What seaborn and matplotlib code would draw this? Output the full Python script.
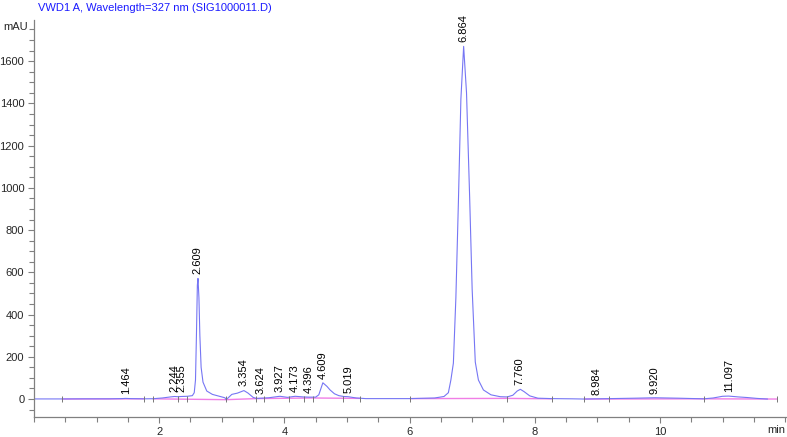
"""
Хроматограмма VWD1 A, 327 nm — воспроизведение графика
"""

import numpy as np
import pandas as pd
import matplotlib
matplotlib.use('Agg')
import matplotlib.pyplot as plt
from matplotlib.ticker import MultipleLocator
import seaborn as sns

# Сигнал детектора (время, мин / mAU)
time = [0.00, 0.45, 0.80, 1.20, 1.40, 1.464, 1.55, 1.76, 1.90, 2.05,
        2.18, 2.244, 2.30, 2.355, 2.45, 2.53, 2.56, 2.58, 2.595, 2.61,
        2.62, 2.635, 2.65, 2.67, 2.70, 2.76, 2.85, 2.95, 3.05, 3.07,
        3.10, 3.16, 3.25, 3.354, 3.42, 3.50, 3.55, 3.624, 3.75, 3.90,
        3.93, 4.05, 4.173, 4.30, 4.396, 4.50, 4.55, 4.615, 4.68, 4.73,
        4.80, 4.87, 4.95, 5.019, 5.15, 5.30, 5.60, 6.00, 6.40, 6.55,
        6.62, 6.66, 6.70, 6.74, 6.78, 6.82, 6.864, 6.91, 6.96, 7.00,
        7.05, 7.10, 7.18, 7.30, 7.45, 7.56, 7.65, 7.72, 7.77, 7.83,
        7.92, 8.05, 8.28, 8.60, 8.79, 8.984, 9.20, 9.60, 9.92, 10.30,
        10.70, 10.85, 11.00, 11.097, 11.25, 11.40, 11.55, 11.72]
signal = [0.5, 0.5, 1, 1, 2, 3, 2, 1, 1.5, 5,
          10, 12, 11, 12, 13, 16, 30, 90, 300, 540,
          571, 480, 300, 150, 80, 38, 22, 14, 6, -3,
          5, 22, 28, 40, 28, 8, 3, 4, 6, 12,
          13, 8, 13, 10, 9, 9, 20, 77, 60, 43,
          25, 16, 12, 11, 5, 2, 2, 2, 5, 12,
          30, 90, 170, 480, 930, 1420, 1670, 1450, 956, 520,
          175, 90, 43, 20, 11, 10, 18, 38, 46, 35,
          15, 4, 2, 1, 0, 1, 2, 4, 6, 4,
          1, 5, 13, 14, 10, 7, 3, 0]

# Базовая линия интегрирования (NaN — разрыв)
base_t = [0.45, 1.76, np.nan, 1.90, 3.07, 3.54, 4.45, 5.21, np.nan,
          6.01, 7.56, 8.28, np.nan, 8.79, 10.70, 11.87]
base_y = [0, 1, np.nan, 1, -3, 2, 5, 3, np.nan,
          2, 3, 1, np.nan, 0, 1, 0]

# Метки событий интегрирования
events = [0.45, 1.76, 1.90, 2.30, 2.44, 3.07, 3.54, 3.67, 4.07, 4.31,
          4.45, 4.94, 5.21, 6.01, 7.56, 8.28, 8.79, 9.19, 10.70, 11.87]

# Времена удерживания пиков
peaks = [1.464, 2.244, 2.355, 2.609, 3.354, 3.624, 3.927, 4.173, 4.396,
         4.609, 5.019, 6.864, 7.760, 8.984, 9.920, 11.097]

df = pd.DataFrame({'time': time, 'signal': signal})

sns.set_style('ticks')
plt.rcParams['font.family'] = ['Liberation Sans', 'DejaVu Sans']
FS = 8.0

fig = plt.figure(figsize=(7.87, 4.37), dpi=100)
ax = fig.add_axes([0.0432, 0.0458, 0.9568, 0.908])

ax.plot(base_t, base_y, color='#f07ee6', lw=1.0, zorder=1)
sns.lineplot(data=df, x='time', y='signal', sort=False, color='#7676f4',
             lw=0.8, ax=ax, zorder=2)

for t in events:
    ax.vlines(t, -14, 14, color='#777777', lw=0.7, zorder=3)

t_arr = np.array(time)
s_arr = np.array(signal)
for p in peaks:
    win = (t_arr > p - 0.03) & (t_arr < p + 0.03)
    top = s_arr[win].max() if win.any() else np.interp(p, t_arr, s_arr)
    ax.annotate(f'{p:.3f}', xy=(p, top), xytext=(0, 3), textcoords='offset points',
                rotation=90, ha='center', va='bottom', fontsize=FS, color='black')

ax.set_xlim(0, 12.03)
ax.set_ylim(-85, 1794)
ax.xaxis.set_minor_locator(MultipleLocator(0.5))
ax.yaxis.set_major_locator(MultipleLocator(200))
ax.yaxis.set_minor_locator(MultipleLocator(50))
ax.set_xticks([2, 4, 6, 8, 10])
ax.set_xlabel('')
ax.set_ylabel('')

for side in ['top', 'right']:
    ax.spines[side].set_visible(False)
for side in ['left', 'bottom']:
    ax.spines[side].set_color('#808080')
    ax.spines[side].set_linewidth(0.9)

ax.tick_params(which='both', color='#808080', width=0.8, labelsize=FS)
ax.tick_params(which='major', length=4)
ax.tick_params(which='minor', length=3.5)
ax.tick_params(axis='y', pad=3)
ax.tick_params(axis='x', pad=3)

fig.text(0.048, 0.993, 'VWD1 A, Wavelength=327 nm (SIG1000011.D)',
         color='#1a1aff', fontsize=FS, ha='left', va='top')
fig.text(0.004, 0.938, 'mAU', fontsize=FS, ha='left', va='center')
fig.text(0.998, 0.004, 'min', fontsize=FS, ha='right', va='bottom')

fig.savefig('out.png', dpi=100)
plt.close()
